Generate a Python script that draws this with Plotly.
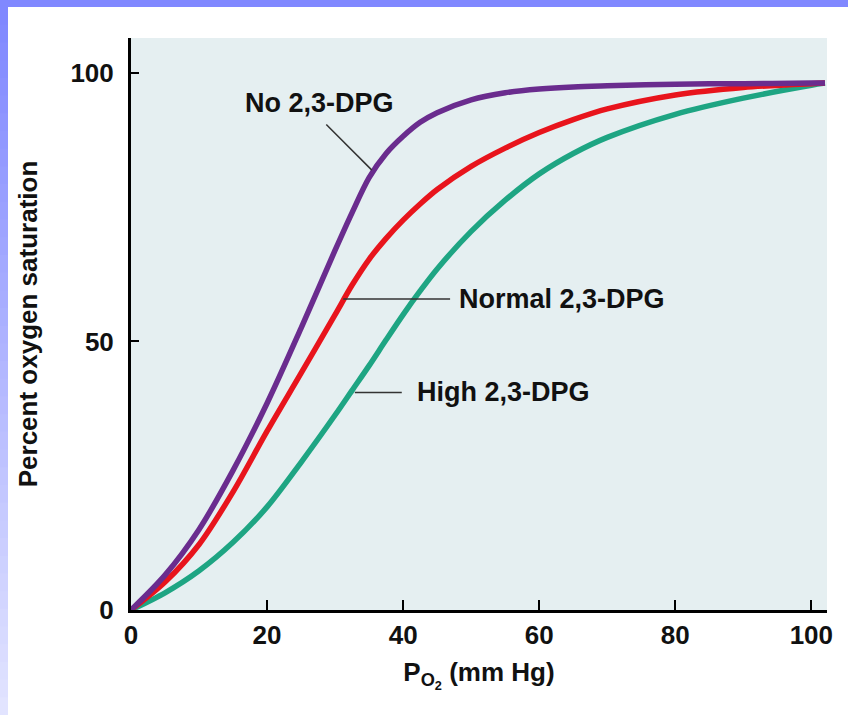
import plotly.graph_objects as go

# Oxygen dissociation curves
po2 = [0, 5, 10, 15, 20, 25, 30, 32.5, 35, 37.5, 40, 42.5, 45, 50, 55, 60, 65, 70, 80, 90, 100, 102]
no_dpg = [0, 6.5, 15, 26, 38.5, 52.5, 67, 74, 80.5, 85, 88.2, 90.8, 92.6, 95, 96.3, 97, 97.4, 97.6, 97.9, 98, 98.1, 98.1]
normal_dpg = [0, 5.2, 12.2, 22, 33.3, 44.1, 55, 60.5, 65.3, 69.2, 72.6, 75.6, 78.3, 82.6, 86, 88.9, 91.3, 93.3, 95.9, 97.3, 98, 98.1]
high_dpg = [0, 3.2, 7.3, 12.6, 19.2, 27.5, 36.3, 40.9, 45.5, 50.3, 55, 59.4, 63.5, 70.5, 76.3, 81.2, 85, 88, 92.3, 95.3, 97.7, 98.1]

x_ticks = [0, 20, 40, 60, 80, 100]
y_ticks = [0, 50, 100]

FONT = "Liberation Sans, Arial, sans-serif"

fig = go.Figure()

series = [
    ("No 2,3-DPG", no_dpg, "#6a2c8e"),
    ("Normal 2,3-DPG", normal_dpg, "#e8141c"),
    ("High 2,3-DPG", high_dpg, "#1ea583"),
]
for name, vals, col in series[::-1]:
    fig.add_trace(go.Scatter(
        x=po2, y=vals, mode="lines", name=name,
        line=dict(color=col, width=5.5, shape="spline", smoothing=0.9),
        showlegend=False,
    ))

# pointer lines from labels to curves
pointers = [((28.7, 90.4), (35.4, 81.9)), ((31.2, 57.9), (46.9, 57.9)), ((32.9, 40.5), (39.8, 40.5))]
for (x0, y0), (x1, y1) in pointers:
    fig.add_shape(type="line", xref="x", yref="y", x0=x0, y0=y0, x1=x1, y1=y1,
                  line=dict(color="#333333", width=1.5))

lab_font = dict(family=FONT, size=27, color="#111111", weight="bold")
fig.add_annotation(x=27.7, y=94.4, text="No 2,3-DPG", showarrow=False, font=lab_font,
                   xanchor="center", yanchor="middle")
fig.add_annotation(x=47.9, y=57.9, text="Normal 2,3-DPG", showarrow=False, font=lab_font,
                   xanchor="left", yanchor="middle")
fig.add_annotation(x=41.8, y=40.5, text="High 2,3-DPG", showarrow=False, font=lab_font,
                   xanchor="left", yanchor="middle")

# slide frame: blue top bar and gradient left bar
W, H, L = 696.0, 572.0, 131.0
def px(p):
    return (p - L) / W
def py(p):
    return (610 - p) / H
fig.add_shape(type="rect", xref="paper", yref="paper", x0=px(0), x1=px(848), y0=py(0), y1=py(7),
              fillcolor="rgb(128,136,255)", line=dict(width=0), layer="above")
n = 40
for i in range(n):
    t = i / (n - 1)
    r = int(128 + (226 - 128) * t)
    g = int(136 + (228 - 136) * t)
    ya = 7 + (715 - 7) * i / n
    yb = 7 + (715 - 7) * (i + 1) / n + 1
    fig.add_shape(type="rect", xref="paper", yref="paper", x0=px(0), x1=px(8), y0=py(ya), y1=py(yb),
                  fillcolor=f"rgb({r},{g},255)", line=dict(width=0), layer="above")

axis_common = dict(
    showline=True, linecolor="black", linewidth=3,
    ticks="inside", tickcolor="black", tickwidth=2,
    showgrid=False, zeroline=False,
    tickfont=dict(family=FONT, size=26, color="#111111", weight="bold"),
)
fig.update_xaxes(range=[0, 102.3], tickvals=x_ticks, ticklen=10, ticklabelstandoff=0, **axis_common,
                 title=dict(text="P<sub>O<sub>2</sub></sub> (mm Hg)", standoff=14,
                            font=dict(family=FONT, size=26, color="#111111", weight="bold")))
fig.update_yaxes(range=[0, 106.5], tickvals=y_ticks, ticklen=8, ticklabelstandoff=9, **axis_common,
                 title=dict(text="Percent oxygen saturation", standoff=26,
                            font=dict(family=FONT, size=26, color="#111111", weight="bold")))

fig.update_layout(
    width=848, height=715, autosize=False,
    margin=dict(l=131, r=21, t=38, b=105),
    paper_bgcolor="white",
    plot_bgcolor="#e5eff1",
)

fig.write_html("out.html", config={"displayModeBar": False},
               post_script="document.body.style.margin='0px';")
